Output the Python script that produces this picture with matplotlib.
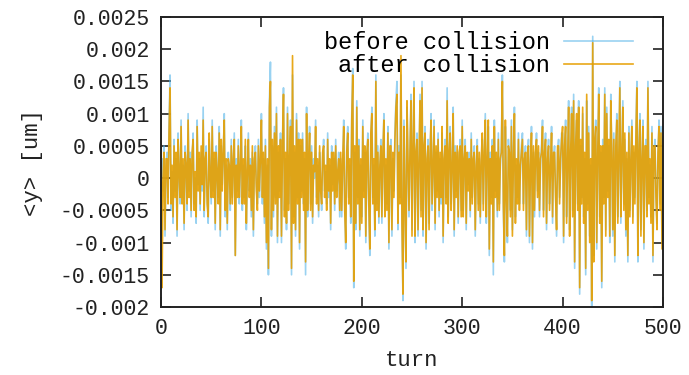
import matplotlib
matplotlib.use("Agg")
import matplotlib.pyplot as plt
import numpy as np

# turn number 0..500
turns = list(range(0, 501))

# <y> before collision, units of 1e-4 um (one value per turn)
before_e4 = [
    -6, 3, -2, 5, -9, 2, 4, -3, 8, 16, -5, 1, -7, 6, -2, 3, -9, 7, 0, -4,
    9, -3, 2, -8, 5, 1, -5, 10, -2, 4, -6, 3, 7, -4, 0, -7, 9, -1, 3, -5,
    4, -2, 11, -6, 2, 5, -3, -7, 6, 1, -4, 9, -2, 3, -8, 5, 0, -3, 8, -9,
    5, -1, 3, 10, -6, 2, -8, 4, 1, -5, 6, -3, 2, 7, -12, 3, -2, 6, -4, 1,
    9, -5, 2, -3, 5, -8, 0, 7, -2, 3, -6, 4, -9, 2, 5, -1, -4, 6, -3, 2,
    10, -4, 3, -7, 6, -11, 2, -15, 12, 18, -9, 5, -6, 8, -3, 11, -10, 4, -2, 7,
    -10, 6, 14, -5, 3, -8, 11, -4, 2, 9, -15, 16, -6, 4, -9, 10, -3, 7, -11, 5,
    -2, 7, -4, 3, -15, 11, -6, 2, 8, -4, 5, -7, 3, 0, 9, -3, 2, -6, 4, -1,
    -5, 3, 6, -2, 1, -4, 7, -3, 2, -8, 5, -1, 3, -5, 6, -2, 0, 4, -6, 3,
    -6, 2, 9, -4, -11, 5, 8, -3, 2, -7, 10, 17, -17, 4, -8, 12, -3, 6, -9, 2,
    -6, 9, -2, 4, -10, 3, 7, -5, -12, 6, 11, -3, 2, -9, 16, -4, 5, -7, 1, 6,
    -7, 3, 10, -5, 2, -4, 8, -11, 4, 6, -9, 3, -2, 7, 12, 15, -8, 5, -3, 16,
    -6, -19, 9, -3, -14, 11, 2, -6, 5, 13, -8, 4, 15, -10, 3, 7, -9, 2, 13, -5,
    15, -9, 4, 8, -11, 2, 6, -7, 3, 10, -5, 1, 9, -8, 4, -2, 7, -6, 3, -4,
    7, -10, 2, 6, -3, 14, -6, 3, 8, -4, 1, 11, -9, 5, -2, 4, -7, 3, 6, -5,
    9, -5, 2, 6, -8, 3, -1, 4, -6, 7, -3, 2, 5, -9, 1, 6, -4, 3, -7, 2,
    6, -4, 3, 10, -7, 2, 8, -12, 4, -3, 6, -15, 9, -2, 3, -6, 7, -4, 2, 5,
    16, -5, -13, 8, -2, -10, 6, 3, -5, 9, -8, 4, 11, -6, 2, -3, 7, -4, 1, 5,
    7, -4, 2, 5, -9, 3, 6, -10, 1, 8, -11, 4, -6, 3, 7, -2, 4, -6, 2, 5,
    9, -5, 3, 7, -8, 2, 6, -4, 1, 8, -7, 3, 5, -2, -9, 4, 6, -3, 2, 7,
    7, -10, 4, 9, -6, 2, 12, -8, 3, 11, -5, 13, -14, 6, 9, -4, 12, -18, 5, -3,
    10, -6, 3, -15, 12, -4, 8, -9, 2, -20, 22, -12, 5, 9, -11, 3, 14, -6, 4, -17,
    6, -3, 14, -8, 11, -2, 5, -10, 13, 3, -9, 7, -13, 4, 10, -6, 2, 15, -7, 3,
    12, -4, 6, -9, 3, -13, 8, -5, 2, 9, -6, 4, -3, 7, 15, -13, 5, 10, -8, 2,
    9, -11, 4, 6, -5, 15, -3, 2, -6, 8, -13, 4, 6, -2, -7, 3, 9, -4, 8, -10,
    5,
]

# <y> after collision, units of 1e-4 um (one value per turn)
after_e4 = [
    10, -17, -1, 4, -8, 3, 3, -4, 7, 14, -4, 2, -6, 5, -3, 4, -8, 6, 1, -3,
    8, -4, 3, -7, 4, 2, -4, 9, -3, 3, -5, 4, 6, -5, 1, -6, 8, -2, 4, -4,
    5, -1, 9, -5, 3, 4, -4, -6, 7, 0, -3, 8, -3, 4, -7, 4, 1, -4, 7, -8,
    6, -2, 4, 9, -5, 3, -7, 3, 2, -4, 5, -4, 3, 6, -12, 2, -3, 5, -3, 2,
    8, -4, 3, -4, 6, -7, 1, 6, -3, 2, -5, 5, -8, 3, 4, -2, -5, 5, -2, 3,
    9, -3, 4, -6, 5, -10, 3, -14, 11, 15, -8, 6, -5, 7, -4, 10, -9, 5, -3, 6,
    -9, 5, 13, -6, 4, -7, 10, -5, 3, 8, -14, 19, -7, 5, -8, 9, -4, 6, -10, 6,
    -3, 6, -5, 4, -13, 10, -5, 3, 7, -5, 4, -6, 2, 1, 8, -4, 3, -5, 5, -2,
    -4, 4, 5, -3, 2, -5, 6, -2, 3, -7, 4, -2, 4, -4, 5, -3, 1, 3, -5, 4,
    -5, 3, 8, -5, -10, 4, 7, -4, 3, -6, 9, 16, -16, 5, -7, 11, -4, 5, -8, 3,
    -7, 8, -3, 5, -9, 4, 6, -4, -11, 7, 10, -4, 3, -8, 15, -5, 4, -6, 2, 5,
    -6, 4, 9, -6, 3, -5, 7, -10, 5, 5, -8, 4, -3, 6, 11, 13, -7, 4, -4, 19,
    -7, -18, 8, -4, -13, 12, 3, -5, 4, 12, -9, 5, 14, -9, 4, 6, -8, 3, 12, -6,
    14, -8, 5, 7, -10, 3, 5, -8, 4, 9, -4, 2, 8, -7, 5, -3, 6, -5, 4, -3,
    8, -9, 3, 5, -4, 12, -7, 4, 7, -5, 2, 10, -8, 4, -3, 5, -6, 4, 5, -6,
    8, -6, 3, 5, -7, 4, -2, 3, -5, 6, -4, 3, 4, -8, 2, 5, -5, 4, -6, 3,
    7, -5, 4, 9, -6, 3, 9, -11, 3, -4, 5, -13, 8, -3, 4, -5, 6, -5, 3, 4,
    15, -4, -12, 9, -3, -9, 5, 4, -6, 8, -9, 3, 10, -7, 3, -4, 6, -5, 2, 4,
    6, -5, 3, 4, -8, 4, 5, -9, 2, 7, -10, 5, -5, 4, 6, -3, 5, -5, 3, 4,
    8, -6, 4, 6, -7, 3, 5, -5, 2, 7, -6, 4, 4, -3, -8, 5, 5, -4, 3, 6,
    8, -9, 5, 8, -7, 3, 11, -9, 4, 10, -6, 12, -13, 5, 10, -5, 11, -17, 6, -4,
    11, -7, 4, -14, 13, -5, 7, -10, 3, -19, 21, -13, 6, 8, -10, 4, 13, -7, 5, -16,
    5, -4, 13, -9, 10, -3, 6, -9, 12, 4, -8, 6, -12, 5, 9, -7, 3, 14, -6, 4,
    11, -5, 7, -8, 4, -12, 7, -6, 3, 8, -7, 5, -4, 6, 14, -12, 4, 9, -9, 3,
    8, -10, 5, 5, -6, 14, -4, 3, -7, 7, -12, 5, 5, -3, -8, 4, 8, -5, 7, -11,
    6,
]

UNIT = 1e-4
before = np.array(before_e4) * UNIT
after = np.array(after_e4) * UNIT

xticks = [0, 100, 200, 300, 400, 500]
xticklabels = ["0", "100", "200", "300", "400", "500"]
yticks = [-0.002, -0.0015, -0.001, -0.0005, 0, 0.0005, 0.001, 0.0015, 0.002, 0.0025]
yticklabels = ["-0.002", "-0.0015", "-0.001", "-0.0005", "0", "0.0005",
               "0.001", "0.0015", "0.002", "0.0025"]

plt.rcParams["font.family"] = ["Liberation Mono", "DejaVu Sans Mono"]

fig = plt.figure(figsize=(6.89, 3.75), dpi=100)
ax = fig.add_axes([161 / 689, 1 - 307 / 375, (663 - 161) / 689, (307 - 17) / 375])

ax.plot(turns, before, color="#56B4E9", lw=1.2, alpha=0.6, label="before collision")
ax.plot(turns, after, color="#E69F00", lw=1.2, alpha=0.9, label="after collision")

ax.set_xlim(0, 500)
ax.set_ylim(-0.002, 0.0025)
ax.set_xticks(xticks)
ax.set_xticklabels(xticklabels)
ax.set_yticks(yticks)
ax.set_yticklabels(yticklabels)
ax.tick_params(direction="in", length=7, width=1.2, top=True, right=True,
               labelsize=15.5, colors="#222222", pad=8)
for s in ax.spines.values():
    s.set_linewidth(1.4)
    s.set_color("#222222")

ax.set_xlabel("turn", fontsize=16, labelpad=8, color="#222222")
ax.set_ylabel("<y> [um]", fontsize=16, labelpad=12, color="#222222")

leg = ax.legend(loc="upper right", bbox_to_anchor=(0.968, 1.0), frameon=False,
                markerfirst=False, fontsize=17, handlelength=2.9,
                handletextpad=0.6, labelspacing=0.0, borderaxespad=0.2)

fig.savefig("out.png", dpi=100)
